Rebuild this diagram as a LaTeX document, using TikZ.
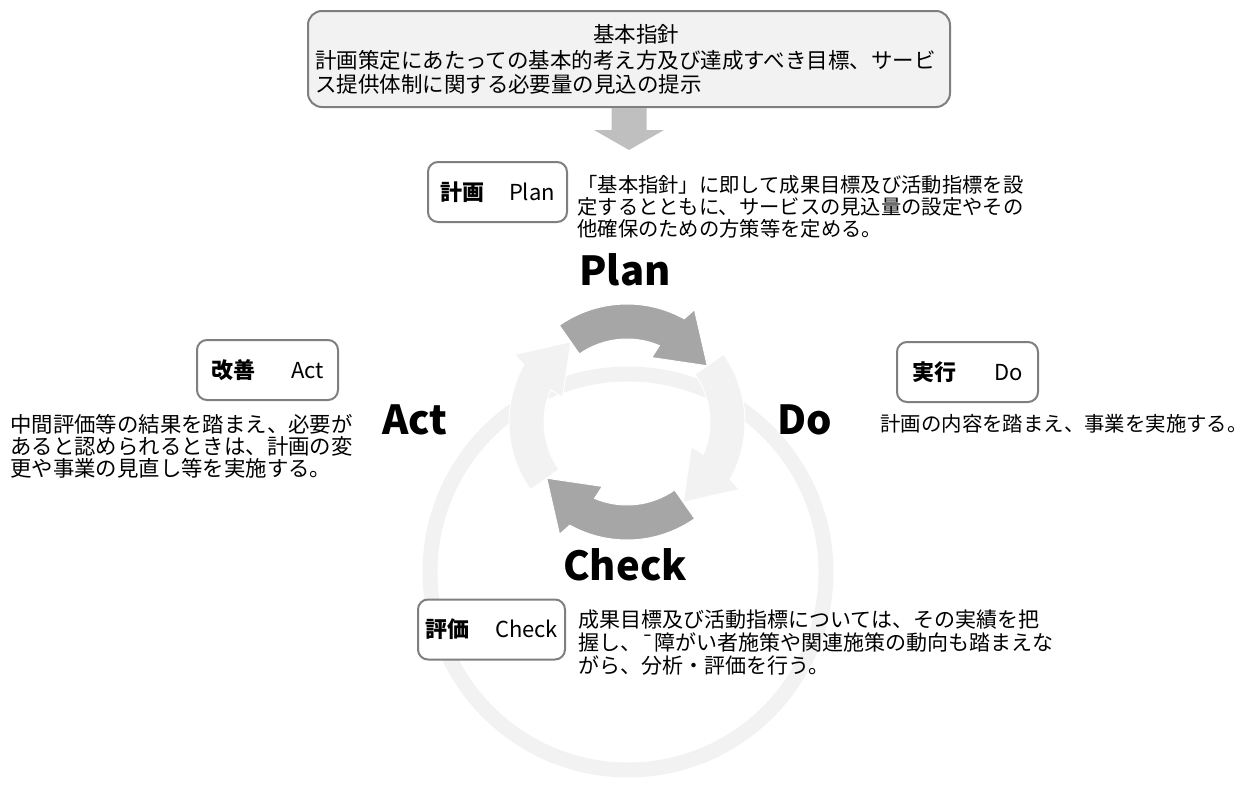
\documentclass[tikz,border=0pt]{standalone}
\usepackage{fontspec}
\setmainfont{Noto Sans CJK JP}
\usetikzlibrary{positioning,calc}
\definecolor{ringgray}{RGB}{242,242,242}
\definecolor{arrowgray}{RGB}{166,166,166}
\definecolor{downgray}{RGB}{191,191,191}
\definecolor{edgegray}{RGB}{127,127,127}
% one arrow of the cycle: tail angle, style
\newcommand{\cyclearrow}[2]{%
  \filldraw[#2] (#1:118) arc[start angle=#1, end angle=#1-64, radius=118]
    -- (#1-66:131) -- (#1-90:98) -- (#1-56:69) -- (#1-58:83)
    arc[start angle=#1-58, end angle=#1, radius=83] -- cycle;}

\begin{document}
\begin{tikzpicture}[x=0.5pt,y=-0.5pt,font=\fontsize{10.5}{11.5}\selectfont,
  guidebox/.style={draw=edgegray,line width=1pt,fill=ringgray,rounded corners=7pt,
    minimum width=321pt,minimum height=48pt,text width=314pt,align=left,inner sep=0pt,
    font=\fontsize{10.75}{12.2}\selectfont},
  stagebox/.style={draw=edgegray,line width=1pt,fill=white,rounded corners=5pt,
    minimum height=30pt,inner sep=0pt,font=\fontsize{11}{11}\selectfont},
  desc/.style={anchor=north west,align=left,inner sep=0pt},
  cyclelabel/.style={font=\fontsize{20}{20}\selectfont\bfseries},
  lightarrow/.style={fill=ringgray,draw=white,line width=0.5pt},
  darkarrow/.style={fill=arrowgray,draw=white,line width=0.5pt}]
  \useasboundingbox (0,0) rectangle (1250,787);

  % background ring
  \draw[ringgray,line width=7.5pt] (628,572) circle[radius=198];

  % PDCA cycle
  \begin{scope}[shift={(627,422)},yscale=-1]
    \cyclearrow{35}{lightarrow}
    \cyclearrow{215}{lightarrow}
    \cyclearrow{125}{darkarrow}
    \cyclearrow{-55}{darkarrow}
  \end{scope}
  \node[cyclelabel] (planlbl) at (625,270) {Plan};
  \node[cyclelabel] (actlbl) at (415,420) {Act};
  \node[cyclelabel] (dolbl) at (805,420) {Do};
  \node[cyclelabel] (checklbl) at (625,565) {Check};

  % basic guideline
  \node[guidebox] (guide) at (629,59)
    {\strut\\計画策定にあたっての基本的考え方及び達成すべき目標、サービ\\ス提供体制に関する必要量の見込の提示};
  \node[font=\fontsize{10.75}{12.2}\selectfont,inner sep=0pt] (guidetitle) at (636,34) {基本指針};
  \fill[downgray] ($(guide.south)+(-17.5,0)$) -- ++(0,22) -- ++(-17.5,0) -- ++(35,20)
    -- ++(35,-20) -- ++(-17.5,0) -- ++(0,-22) -- cycle;

  % stages
  \node[stagebox,minimum width=69.5pt] (plan) at (497.5,192) {{\bfseries 計画}\hspace{12.5pt}Plan};
  \node[stagebox,minimum width=70.5pt] (act) at (267.5,370) {{\bfseries 改善}\hspace{18pt}Act};
  \node[stagebox,minimum width=70.5pt] (do) at (967.5,372) {{\bfseries 実行}\hspace{19pt}Do};
  \node[stagebox,minimum width=73.5pt] (check) at (491.5,629.5) {{\bfseries 評価}\hspace{13pt}Check};

  \node[desc,font=\fontsize{10.15}{11}\selectfont] (plandesc) at (577,175)
    {「基本指針」に即して成果目標及び活動指標を設\\定するとともに、サービスの見込量の設定やその\\他確保のための方策等を定める。};
  \node[desc,font=\fontsize{10.7}{11}\selectfont] (actdesc) at (10,414)
    {中間評価等の結果を踏まえ、必要が\\あると認められるときは、計画の変\\更や事業の見直し等を実施する。};
  \node[desc,font=\fontsize{10.2}{11}\selectfont] (dodesc) at (880,414)
    {計画の内容を踏まえ、事業を実施する。};
  \node[desc] (checkdesc) at (578,609)
    {成果目標及び活動指標については、その実績を把\\握し、¯障がい者施策や関連施策の動向も踏まえな\\がら、分析・評価を行う。};
\end{tikzpicture}
\end{document}
